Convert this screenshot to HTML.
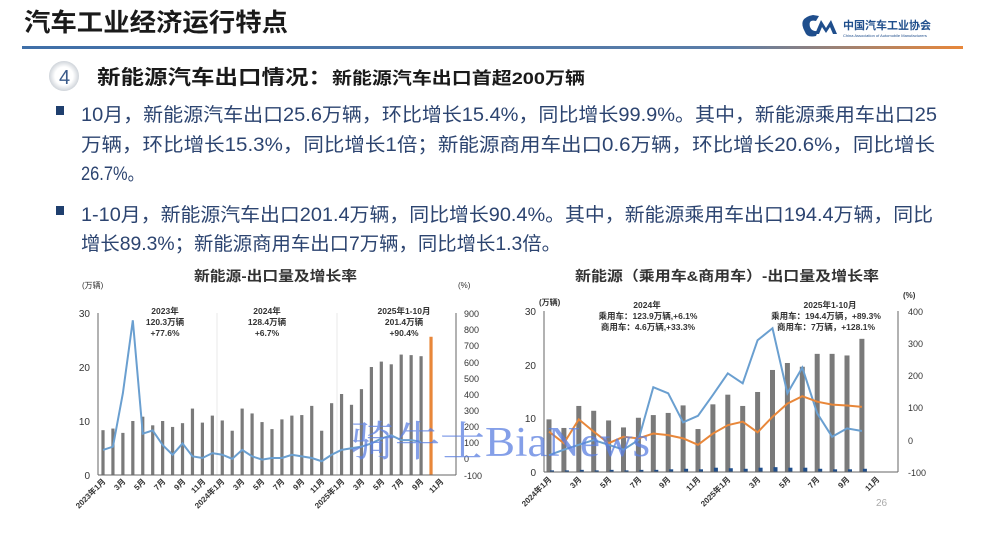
<!DOCTYPE html>
<html><head><meta charset="utf-8"><style>
html,body{margin:0;padding:0;background:#fff;}
svg{display:block;font-family:"Liberation Sans","Noto Sans CJK SC",sans-serif;}
</style></head><body>
<svg id="s" width="1000" height="553" viewBox="0 0 1000 553" xmlns="http://www.w3.org/2000/svg">
<defs>
<linearGradient id="lg" x1="0" x2="1"><stop offset="0" stop-color="#3f6fa8"/><stop offset="0.75" stop-color="#5a7da8"/><stop offset="1" stop-color="#e8873a"/></linearGradient>
<radialGradient id="cg"><stop offset="0.6" stop-color="#fff"/><stop offset="1" stop-color="#cfd4da"/></radialGradient>
</defs>
<text x="24" y="31" font-size="25" font-weight="bold" fill="#1a1a1a" textLength="264" lengthAdjust="spacingAndGlyphs">汽车工业经济运行特点</text>
<path d="M805 32 q-8 -14 8 -17 l6 1 -3 5 q-8 -2 -6 6 q2 5 8 4 l-2 5 q-9 2 -11 -4z" fill="#1f4e8c"/>
<path d="M815 34 l6 -14 l5 8 l5 -8 l6 14 h-4 l-3 -7 -4 6 -4 -6 -3 7z" fill="#1f4e8c"/>
<text x="843" y="29" font-size="11" font-weight="bold" fill="#1f4e8c">中国汽车工业协会</text>
<text x="843" y="37" font-size="4" fill="#1f4e8c">China Association of Automobile Manufacturers</text>
<rect x="22" y="46" width="941" height="3" fill="url(#lg)"/>
<circle cx="64" cy="76" r="15" fill="url(#cg)"/>
<text x="59" y="84" font-size="20" fill="#3a5a8a">4</text>
<text x="97" y="84" font-size="20" font-weight="bold" fill="#1a1a1a" textLength="488" lengthAdjust="spacingAndGlyphs">新能源汽车出口情况：<tspan font-size="17">新能源汽车出口首超200万辆</tspan></text>
<g font-size="19" fill="#2c4470">
<rect x="56" y="106" width="8" height="9" fill="#1f3f6e"/>
<text x="81" y="121" textLength="856" lengthAdjust="spacingAndGlyphs">10月，新能源汽车出口25.6万辆，环比增长15.4%，同比增长99.9%。其中，新能源乘用车出口25</text>
<text x="81" y="151" textLength="854" lengthAdjust="spacingAndGlyphs">万辆，环比增长15.3%，同比增长1倍；新能源商用车出口0.6万辆，环比增长20.6%，同比增长</text>
<text x="81" y="180" textLength="63" lengthAdjust="spacingAndGlyphs">26.7%。</text>
<rect x="56" y="206" width="8" height="9" fill="#1f3f6e"/>
<text x="81" y="221" textLength="852" lengthAdjust="spacingAndGlyphs">1-10月，新能源汽车出口201.4万辆，同比增长90.4%。其中，新能源乘用车出口194.4万辆，同比</text>
<text x="81" y="250" textLength="480" lengthAdjust="spacingAndGlyphs">增长89.3%；新能源商用车出口7万辆，同比增长1.3倍。</text>
</g>
<!-- left chart -->
<text x="194" y="281" font-size="14" font-weight="bold" fill="#333" textLength="163" lengthAdjust="spacingAndGlyphs">新能源-出口量及增长率</text>
<text x="82" y="288" font-size="8" fill="#333">(万辆)</text>
<text x="458" y="288" font-size="8" fill="#333">(%)</text>
<g font-size="10" fill="#333" text-anchor="end">
<text x="90" y="317">30</text><text x="90" y="371">20</text><text x="90" y="425">10</text><text x="90" y="479">0</text>
</g>
<g font-size="9" fill="#333" text-anchor="start">
<text x="464" y="317">900</text><text x="464" y="333">800</text><text x="464" y="349">700</text><text x="464" y="366">600</text><text x="464" y="382">500</text><text x="464" y="398">400</text><text x="464" y="414">300</text><text x="464" y="430">200</text><text x="464" y="446">100</text><text x="464" y="462">0</text><text x="464" y="479">-100</text>
</g>
<g font-size="8.5" font-weight="bold" fill="#333" text-anchor="middle">
<text x="165" y="314">2023年</text><text x="165" y="325">120.3万辆</text><text x="165" y="336">+77.6%</text>
<text x="267" y="314">2024年</text><text x="267" y="325">128.4万辆</text><text x="267" y="336">+6.7%</text>
<text x="404" y="314">2025年1-10月</text><text x="404" y="325">201.4万辆</text><text x="404" y="336">+90.4%</text>
</g>
<line x1="217" y1="313" x2="217" y2="475" stroke="#e4e4e4" stroke-width="0.8"/>
<line x1="337" y1="313" x2="337" y2="475" stroke="#e4e4e4" stroke-width="0.8"/>
<g id="L"></g>
<line x1="98" y1="313" x2="98" y2="475" stroke="#666"/>
<line x1="456" y1="313" x2="456" y2="475" stroke="#666"/>
<line x1="98" y1="475" x2="456" y2="475" stroke="#666"/>
<g font-size="8" font-weight="bold" fill="#333" text-anchor="end">
<text transform="translate(106,482) rotate(-45)">2023年1月</text>
<text transform="translate(126,482) rotate(-45)">3月</text>
<text transform="translate(146,482) rotate(-45)">5月</text>
<text transform="translate(166,482) rotate(-45)">7月</text>
<text transform="translate(186,482) rotate(-45)">9月</text>
<text transform="translate(206,482) rotate(-45)">11月</text>
<text transform="translate(225,482) rotate(-45)">2024年1月</text>
<text transform="translate(245,482) rotate(-45)">3月</text>
<text transform="translate(265,482) rotate(-45)">5月</text>
<text transform="translate(285,482) rotate(-45)">7月</text>
<text transform="translate(305,482) rotate(-45)">9月</text>
<text transform="translate(325,482) rotate(-45)">11月</text>
<text transform="translate(345,482) rotate(-45)">2025年1月</text>
<text transform="translate(365,482) rotate(-45)">3月</text>
<text transform="translate(385,482) rotate(-45)">5月</text>
<text transform="translate(404,482) rotate(-45)">7月</text>
<text transform="translate(424,482) rotate(-45)">9月</text>
<text transform="translate(444,482) rotate(-45)">11月</text>
</g>
<!-- right chart -->
<text x="575" y="281" font-size="14" font-weight="bold" fill="#333" textLength="304" lengthAdjust="spacingAndGlyphs">新能源（乘用车&amp;商用车）-出口量及增长率</text>
<text x="539" y="305" font-size="8" font-weight="bold" fill="#333">(万辆)</text>
<text x="903" y="298" font-size="8" font-weight="bold" fill="#333">(%)</text>
<g font-size="10" fill="#333" text-anchor="end">
<text x="536" y="315">30</text><text x="536" y="369">20</text><text x="536" y="422">10</text><text x="536" y="476">0</text>
</g>
<g font-size="9" fill="#333">
<text x="908" y="315">400</text><text x="908" y="347">300</text><text x="908" y="379">200</text><text x="908" y="411">100</text><text x="908" y="444">0</text><text x="908" y="476">-100</text>
</g>
<g font-size="8.5" font-weight="bold" fill="#333" text-anchor="middle">
<text x="647" y="308">2024年</text><text x="648" y="319">乘用车：123.9万辆,+6.1%</text><text x="648" y="330">商用车：4.6万辆,+33.3%</text>
<text x="830" y="308">2025年1-10月</text><text x="826" y="319">乘用车：194.4万辆，+89.3%</text><text x="826" y="330">商用车：7万辆，+128.1%</text>
</g>
<g id="R"></g>
<line x1="544" y1="311" x2="544" y2="472" stroke="#666"/>
<line x1="898" y1="311" x2="898" y2="472" stroke="#666"/>
<line x1="544" y1="472" x2="898" y2="472" stroke="#666"/>
<g font-size="8" font-weight="bold" fill="#333" text-anchor="end">
<text transform="translate(552,480) rotate(-45)">2024年1月</text>
<text transform="translate(582,480) rotate(-45)">3月</text>
<text transform="translate(612,480) rotate(-45)">5月</text>
<text transform="translate(642,480) rotate(-45)">7月</text>
<text transform="translate(671,480) rotate(-45)">9月</text>
<text transform="translate(701,480) rotate(-45)">11月</text>
<text transform="translate(731,480) rotate(-45)">2025年1月</text>
<text transform="translate(761,480) rotate(-45)">3月</text>
<text transform="translate(791,480) rotate(-45)">5月</text>
<text transform="translate(820,480) rotate(-45)">7月</text>
<text transform="translate(850,480) rotate(-45)">9月</text>
<text transform="translate(880,480) rotate(-45)">11月</text>
</g>
<text x="876" y="506" font-size="10" fill="#aaa">26</text>
<text x="350" y="456" font-size="42" font-family="'Liberation Serif','Noto Serif CJK SC',serif" fill="#5b7fe0" fill-opacity="0.75" textLength="300" lengthAdjust="spacingAndGlyphs">骑牛士BiaNews</text>
</svg>
<script>
var NS="http://www.w3.org/2000/svg";
function el(p,t,a){var e=document.createElementNS(NS,t);for(var k in a)e.setAttribute(k,a[k]);p.appendChild(e);return e;}
var L=document.getElementById("L");
var lb=[8.3,8.6,7.8,10,10.8,9.2,10,8.9,9.6,12.3,9.7,11,10.1,8.2,12.3,11.4,9.8,8.5,10.3,11,11.1,12.8,8.2,13.3,15,13,15.9,20,21,20.5,22.3,22.2,22,25.6];
var lg=[50,70,400,850,150,170,80,20,90,10,0,30,20,-5,50,10,-10,0,0,20,10,0,-20,20,50,60,70,90,120,140,110,110,100];
var pts=[];
lb.forEach(function(v,i){var x=103+i*9.94;el(L,"rect",{x:x-1.6,y:475-v*5.4,width:3.2,height:v*5.4,fill:i==33?"#e8873a":"#7a7a7a"});});
lg.forEach(function(v,i){pts.push((103+i*9.94)+","+(458-v*0.162));});
el(L,"polyline",{points:pts.join(" "),fill:"none",stroke:"#6a9fd0","stroke-width":2});
var R=document.getElementById("R");
var rb=[9.8,8.2,12.3,11.4,9.6,8.3,10.1,10.6,11,12.4,8,12.6,14.4,12.3,14.9,19,20.3,19.6,22,22,21.7,24.8];
var rc=[0.3,0.3,0.4,0.3,0.4,0.3,0.4,0.4,0.5,0.6,0.5,0.8,0.7,0.6,0.8,0.9,0.8,0.8,0.6,0.5,0.5,0.6];
var rbl=[-47,-30,-15,0,-15,-30,0,164,145,55,75,140,207,176,310,347,145,225,83,10,36,28];
var ro=[26,-10,64,26,-10,10,5,20,15,5,-15,20,46,57,24,72,113,136,119,110,107,103];
var p1=[],p2=[];
rb.forEach(function(v,i){var x=549+i*14.9;el(R,"rect",{x:x-2.5,y:472-v*5.37,width:5,height:v*5.37,fill:"#7a7a7a"});
el(R,"rect",{x:x+1,y:472-rc[i]*5.37,width:4,height:rc[i]*5.37,fill:"#1f4e8c"});
p1.push(x+","+(440-rbl[i]*0.322));p2.push(x+","+(440-ro[i]*0.322));});
el(R,"polyline",{points:p1.join(" "),fill:"none",stroke:"#6a9fd0","stroke-width":2});
el(R,"polyline",{points:p2.join(" "),fill:"none",stroke:"#e8873a","stroke-width":2});
</script>
</body></html>
